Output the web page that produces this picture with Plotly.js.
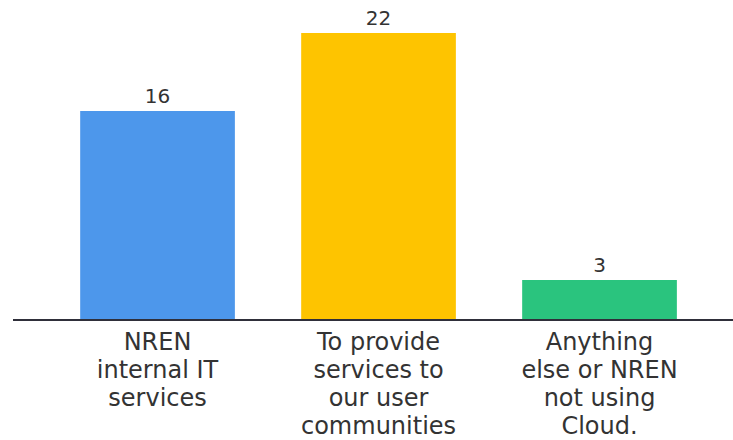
<!DOCTYPE html>
<html>
<head>
<meta charset="utf-8">
<script src="https://cdn.plot.ly/plotly-3.0.1.min.js"></script>
<style>html,body{margin:0;padding:0;background:#fff;}#chart{width:733px;height:440px;}</style>
</head>
<body>
<div id="chart"></div>
<script>
const categories = ["NREN<br>internal IT<br>services", "To provide<br>services to<br>our user<br>communities", "Anything<br>else or NREN<br>not using<br>Cloud."];
const values = [16, 22, 3];
const barColors = ["#4D97EB", "#FEC400", "#2AC47E"];

const FONT = "'DejaVu Sans', Inter, sans-serif";
const TICK_SIZE = 24;
const LINE_PX = 28;

const trace = {
  type: "bar",
  x: categories,
  y: values,
  text: values.map(String),
  textposition: "outside",
  cliponaxis: false,
  textfont: {family: FONT, size: 20, color: "#333333"},
  marker: {color: barColors},
  width: 0.7,
  hoverinfo: "none"
};

const layout = {
  width: 733, height: 440,
  margin: {l: 13, r: 0, t: 8, b: 121},
  paper_bgcolor: "#ffffff", plot_bgcolor: "#ffffff",
  showlegend: false,
  xaxis: {
    type: "category",
    range: [-0.654, 2.604],
    showline: true, linecolor: "#2f2f3a", linewidth: 2,
    showgrid: false, zeroline: false, ticks: "",
    tickfont: {family: FONT, size: TICK_SIZE, color: "#333333"},
    ticklabelstandoff: 0
  },
  yaxis: {
    range: [0, 23.923],
    visible: false, showgrid: false, zeroline: false
  }
};

Plotly.newPlot("chart", [trace], layout, {staticPlot: true, displayModeBar: false}).then(gd => {
  const factor = LINE_PX / (1.3 * TICK_SIZE);
  gd.querySelectorAll('.xtick text tspan.line').forEach(t => {
    const dy = t.getAttribute('dy');
    if (dy && dy.endsWith('em')) {
      t.setAttribute('dy', (parseFloat(dy) * factor) + 'em');
    }
  });
});
</script>
</body>
</html>
